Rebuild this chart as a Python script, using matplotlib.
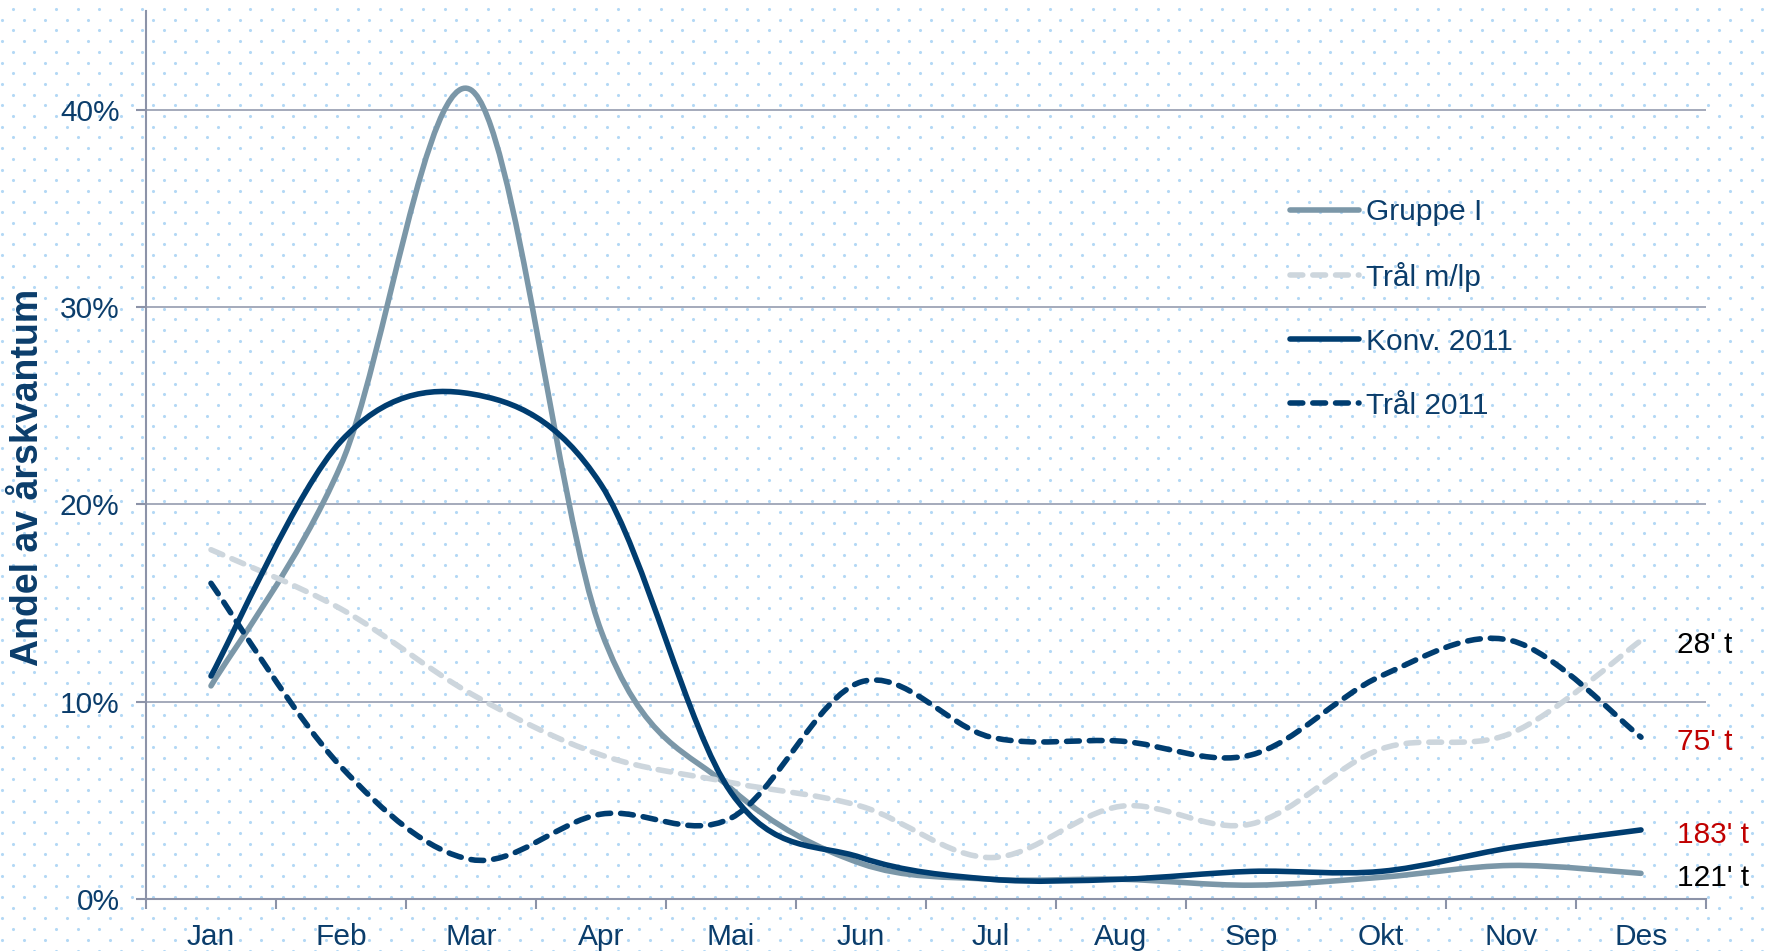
import numpy as np
import matplotlib
matplotlib.use("Agg")
import matplotlib.pyplot as plt
from matplotlib.path import Path
from matplotlib.patches import PathPatch
from matplotlib.lines import Line2D

plt.rcParams['font.family'] = ['Liberation Sans', 'DejaVu Sans']

months = ['Jan', 'Feb', 'Mar', 'Apr', 'Mai', 'Jun', 'Jul', 'Aug', 'Sep', 'Okt', 'Nov', 'Des']

gruppe1 = [10.8, 22.0, 41.0, 13.6, 5.6, 1.8, 1.0, 1.0, 0.7, 1.1, 1.7, 1.3]
tral_mlp = [17.7, 14.7, 10.4, 7.3, 5.9, 4.7, 2.1, 4.7, 3.8, 7.6, 8.4, 13.1]
konv2011 = [11.3, 23.2, 25.6, 21.0, 5.4, 2.1, 1.0, 1.0, 1.4, 1.4, 2.6, 3.5]
tral2011 = [16.0, 6.7, 2.0, 4.3, 4.1, 11.0, 8.2, 8.0, 7.3, 11.3, 13.1, 8.2]

series_names = ['Gruppe I', 'Trål m/lp', 'Konv. 2011', 'Trål 2011']
end_labels = ["121' t", "28' t", "183' t", "75' t"]

navy = '#0b3d6b'
colors = ['#7b97a8', '#cdd6dd', '#003d70', '#003d70']
styles = ['-', '--', '-', '--']
label_colors = ['black', 'black', '#c00000', '#c00000']
grid_col = '#8c93a8'
fs = 21.5


def smooth_path(x, y):
    # excel-like smoothed line: cubic bezier through every point
    x = np.asarray(x, float)
    y = np.asarray(y, float)
    px = np.concatenate([[x[0]], x, [x[-1]]])
    py = np.concatenate([[y[0]], y, [y[-1]]])
    verts = [(x[0], y[0])]
    codes = [Path.MOVETO]
    for i in range(len(x) - 1):
        j = i + 1
        c1 = (px[j] + (px[j + 1] - px[j - 1]) / 6, py[j] + (py[j + 1] - py[j - 1]) / 6)
        c2 = (px[j + 1] - (px[j + 2] - px[j]) / 6, py[j + 1] - (py[j + 2] - py[j]) / 6)
        verts += [c1, c2, (x[j], y[j])]
        codes += [Path.CURVE4] * 3
    return Path(verts, codes)


fig = plt.figure(figsize=(17.66, 9.51), dpi=100)

# dotted background
bg = fig.add_axes([0, 0, 1, 1], zorder=-1)
bg.set_xlim(0, 1766)
bg.set_ylim(951, 0)
bg.axis('off')
dx, dy = 21.6, 10.7
pts_x, pts_y = [], []
for r, yy in enumerate(np.arange(9, 951, dy)):
    off = 12.7 if r % 2 == 0 else 1.9
    xs = np.arange(off, 1766, dx)
    pts_x.extend(xs)
    pts_y.extend([yy] * len(xs))
bg.scatter(pts_x, pts_y, s=5, color='#b3d8f5', linewidths=0)

ax = fig.add_axes([146 / 1766, 1 - 899 / 951, (1706 - 146) / 1766, (899 - 11) / 951])
ax.set_facecolor('none')

xpos = np.arange(len(months))
all_series = [gruppe1, tral_mlp, konv2011, tral2011]
handles = []
for vals, col, ls, name in zip(all_series, colors, styles, series_names):
    lstyle = (0, (2.3, 1.8)) if ls == '--' else '-'
    patch = PathPatch(smooth_path(xpos, vals), facecolor='none', edgecolor=col,
                      linewidth=4, linestyle=lstyle, capstyle='round',
                      joinstyle='round', zorder=3)
    ax.add_patch(patch)
    h = Line2D([0], [0], color=col, linewidth=4, linestyle=lstyle,
               dash_capstyle='round', solid_capstyle='round')
    handles.append(h)

for vals, txt, lc in zip(all_series, end_labels, label_colors):
    ax.text(11.28, vals[-1] - 0.25, txt, color=lc, fontsize=fs, va='center', ha='left',
            clip_on=False)

ax.set_xlim(-0.5, 11.5)
ax.set_ylim(0, 45)
ax.set_yticks([0, 10, 20, 30, 40])
ax.set_yticklabels(['0%', '10%', '20%', '30%', '40%'])
ax.set_xticks(np.arange(-0.5, 12, 1))
ax.set_xticklabels([])
ax.set_xticks(xpos, minor=True)
ax.set_xticklabels(months, minor=True)
ax.tick_params(axis='x', which='minor', length=0, pad=17, labelsize=fs, labelcolor=navy)
ax.tick_params(axis='x', which='major', length=7, width=1.5, color=grid_col)
ax.tick_params(axis='y', length=7, width=1.5, color=grid_col, pad=12,
               labelsize=fs, labelcolor=navy)

for v in [10, 20, 30, 40]:
    ax.axhline(v, color=grid_col, linewidth=1.1, zorder=1)

for s in ['top', 'right']:
    ax.spines[s].set_visible(False)
for s in ['left', 'bottom']:
    ax.spines[s].set_color(grid_col)
    ax.spines[s].set_linewidth(1.5)

fig.text(28 / 1766, 1 - 477 / 951, 'Andel av årskvantum', rotation=90, fontsize=27,
         fontweight='bold', color=navy, ha='center', va='center')

leg = ax.legend(handles, series_names, loc='upper left',
                bbox_to_anchor=(1290 / 1766, 1 - 198 / 951), bbox_transform=fig.transFigure,
                frameon=False, fontsize=fs, handlelength=2.3, handletextpad=0.25,
                labelspacing=1.2, borderaxespad=0, borderpad=0)
for t in leg.get_texts():
    t.set_color(navy)

fig.savefig('out.png', dpi=100)
